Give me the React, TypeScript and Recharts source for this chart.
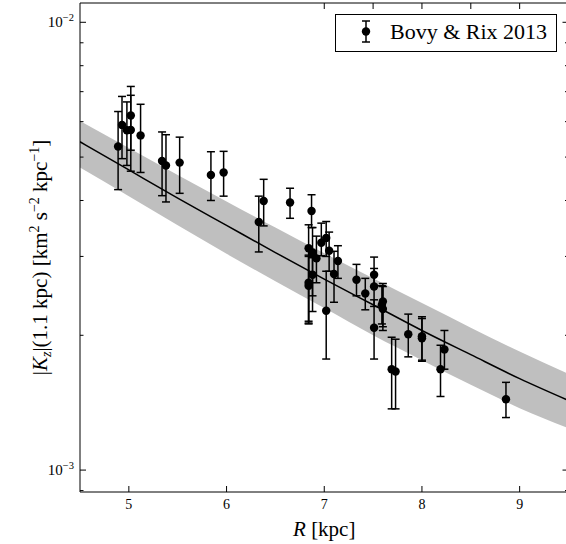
import React from "react";
import {Area, ComposedChart, ErrorBar, Legend, Line, Scatter, XAxis, YAxis, ZAxis} from "recharts";

const FONT = "'Liberation Serif', 'DejaVu Serif', serif";
const U = 1e-3; // K_z values below are in units of 1e-3

// Bovy & Rix 2013 measurements
const R_KPC = [4.89, 4.93, 4.98, 5.02, 5.02, 5.12, 5.34, 5.38, 5.52, 5.84, 5.97, 6.33, 6.38, 6.65, 6.87, 6.84, 6.88, 6.92, 6.97, 7.02, 7.05, 7.10, 7.14, 6.88, 6.84, 6.84, 7.02, 7.33, 7.42, 7.51, 7.51, 7.51, 7.60, 7.60, 7.59, 7.69, 7.73, 7.86, 8.00, 8.00, 8.19, 8.23, 8.86];
const KZ = [5.28, 5.90, 5.74, 6.19, 5.75, 5.59, 4.90, 4.79, 4.86, 4.56, 4.62, 3.58, 3.99, 3.96, 3.79, 3.13, 3.06, 2.97, 3.22, 3.30, 3.09, 2.74, 2.93, 2.73, 2.62, 2.58, 2.27, 2.66, 2.48, 2.73, 2.57, 2.08, 2.38, 2.29, 2.34, 1.68, 1.66, 2.01, 1.99, 1.97, 1.68, 1.86, 1.44];
const KZ_LOW = [4.23, 4.96, 4.79, 5.18, 4.65, 4.62, 4.10, 3.97, 4.15, 4.00, 4.09, 3.07, 3.51, 3.65, 3.48, 2.12, 2.26, 2.62, 3.01, 3.00, 2.78, 2.37, 2.68, 2.45, 2.15, 2.13, 1.77, 2.45, 2.28, 2.57, 2.32, 1.77, 2.09, 2.05, 2.12, 1.37, 1.37, 1.79, 1.76, 1.75, 1.46, 1.68, 1.31];
const KZ_HIGH = [6.32, 6.83, 6.64, 7.19, 6.87, 6.56, 5.69, 5.61, 5.54, 5.14, 5.15, 4.09, 4.46, 4.26, 4.12, 3.53, 3.48, 3.33, 3.56, 3.59, 3.40, 3.08, 3.17, 2.98, 3.00, 3.02, 2.78, 2.88, 2.68, 2.99, 2.82, 2.40, 2.61, 2.57, 2.58, 1.98, 1.96, 2.23, 2.20, 2.18, 1.90, 2.05, 1.57];

// model curve and its band
const MODEL_R = [4.5, 5, 5.5, 6, 6.5, 7, 7.5, 8, 8.5, 9, 9.5];
const MODEL_KZ = [5.41, 4.68, 4.05, 3.52, 3.06, 2.67, 2.34, 2.05, 1.81, 1.60, 1.43];
const BAND_LOW = [4.74, 4.09, 3.52, 3.04, 2.64, 2.30, 2.00, 1.76, 1.55, 1.375, 1.24];
const BAND_HIGH = [6.02, 5.24, 4.56, 3.98, 3.48, 3.05, 2.68, 2.36, 2.08, 1.84, 1.64];

const X_TICKS = [5, 6, 7, 8, 9];
const Y_MAJOR = [0.001, 0.01];
const Y_MAJOR_EXP = ["\u22123", "\u22122"];
const Y_MINOR = [0.0009, 0.002, 0.003, 0.004, 0.005, 0.006, 0.007, 0.008, 0.009];
const Y_TICKS = [...Y_MINOR, ...Y_MAJOR].sort((a, b) => a - b);
const SERIES_NAME = "Bovy & Rix 2013";

const points = R_KPC.map((r, i) => ({
    R: r,
    K: KZ[i] * U,
    err: [(KZ[i] - KZ_LOW[i]) * U, (KZ_HIGH[i] - KZ[i]) * U],
}));
const model = MODEL_R.map((r, i) => ({
    R: r,
    mid: MODEL_KZ[i] * U,
    band: [BAND_LOW[i] * U, BAND_HIGH[i] * U],
}));

const serif = {fontFamily: FONT};

const BottomTick = ({x, y, payload}: any) => (
    <g>
        <line x1={x} x2={x} y1={y} y2={y - 6} stroke="#000"/>
        <text x={x} y={y + 17} textAnchor="middle" style={serif} fontSize={14} fill="#000">{payload.value}</text>
    </g>
);
const TopTick = ({x, y}: any) => <line x1={x} x2={x} y1={y} y2={y + 6} stroke="#000"/>;

const LeftTick = ({x, y, payload}: any) => {
    const i = Y_MAJOR.indexOf(payload.value);
    return <g>
        <line x1={x} x2={x + (i >= 0 ? 6 : 3.5)} y1={y} y2={y} stroke="#000"/>
        {i >= 0 && <text x={x - 6} y={y + 5} textAnchor="end" style={serif} fontSize={15} fill="#000">
            10<tspan dy={-6} fontSize={10.5}>{Y_MAJOR_EXP[i]}</tspan>
        </text>}
    </g>
};
const RightTick = ({x, y, payload}: any) => {
    const major = Y_MAJOR.includes(payload.value);
    return <line x1={x} x2={x - (major ? 6 : 3.5)} y1={y} y2={y} stroke="#000"/>
};

const YLabel = ({viewBox}: any) => {
    const cx = viewBox.x + 40;
    const cy = viewBox.y + viewBox.height / 2 + 10;
    return <text transform={`translate(${cx},${cy}) rotate(-90)`} textAnchor="middle" style={serif} fontSize={21} fill="#000" dy={7}>
        |<tspan fontStyle="italic">K</tspan><tspan fontStyle="italic" fontSize={14} dy={4}>z</tspan>
        <tspan dy={-4}>|(1.1 kpc) [km</tspan><tspan fontSize={14} dy={-8}>2</tspan>
        <tspan dy={8}> s</tspan><tspan fontSize={14} dy={-8}>{"\u22122"}</tspan>
        <tspan dy={8}> kpc</tspan><tspan fontSize={14} dy={-8}>{"\u22121"}</tspan>
        <tspan dy={8}>]</tspan>
    </text>
};

const XLabel = ({viewBox}: any) => (
    <text x={viewBox.x + viewBox.width / 2} y={viewBox.y + 44} textAnchor="middle" style={serif} fontSize={21} fill="#000">
        <tspan fontStyle="italic">R</tspan> [kpc]
    </text>
);

const LegendBox = ({payload}: any) => {
    const name = payload?.[0]?.value ?? SERIES_NAME;
    return <svg width={222} height={38} style={{display: "block"}}>
        <rect x={0.5} y={0.5} width={221} height={37} fill="#fff" stroke="#000"/>
        <line x1={31} x2={31} y1={7} y2={28} stroke="#000" strokeWidth={1.5}/>
        <line x1={27} x2={35} y1={7} y2={7} stroke="#000" strokeWidth={1.5}/>
        <line x1={27} x2={35} y1={28} y2={28} stroke="#000" strokeWidth={1.5}/>
        <circle cx={31} cy={17.5} r={4.2} fill="#000"/>
        <text x={55} y={25} style={serif} fontSize={22} fill="#000">{name}</text>
    </svg>
};

export default function App() {
    return <div style={{position: "absolute", left: 0, top: 0, width: 566, height: 544, overflow: "hidden", background: "#fff"}}>
        <ComposedChart width={569} height={544} data={model} margin={{top: 3, right: 0.5, bottom: 0, left: 0}}>
            <XAxis type="number" dataKey="R" domain={[4.5, 9.5]} ticks={X_TICKS} interval={0} allowDataOverflow
                   height={52} tickSize={0} tickMargin={0} tickLine={false} tick={BottomTick}
                   axisLine={{stroke: "#000"}} label={XLabel}/>
            <XAxis xAxisId="top" orientation="top" mirror type="number" domain={[4.5, 9.5]} ticks={X_TICKS}
                   interval={0} allowDataOverflow tickSize={0} tickMargin={0} tickLine={false} tick={TopTick}
                   axisLine={{stroke: "#000"}}/>
            <YAxis dataKey="K" type="number" scale="log" domain={[0.0008934, 0.011043]} allowDataOverflow
                   ticks={Y_TICKS} interval={0} width={80} tickSize={0} tickMargin={0} tickLine={false}
                   tick={LeftTick} axisLine={{stroke: "#000"}} label={YLabel}/>
            <YAxis yAxisId="right" orientation="right" mirror type="number" scale="log"
                   domain={[0.0008934, 0.011043]} allowDataOverflow ticks={Y_TICKS} interval={0}
                   tickSize={0} tickMargin={0} tickLine={false} tick={RightTick} axisLine={{stroke: "#000"}}/>
            <ZAxis range={[56, 56]}/>
            <Area dataKey="band" type="monotone" fill="#bfbfbf" fillOpacity={1} stroke="none"
                  isAnimationActive={false} legendType="none"/>
            <Line dataKey="mid" type="monotone" stroke="#000" strokeWidth={1.5} dot={false} activeDot={false}
                  isAnimationActive={false} legendType="none"/>
            <Scatter data={points} name={SERIES_NAME} fill="#000" shape="circle" isAnimationActive={false}>
                <ErrorBar dataKey="err" direction="y" width={4} stroke="#000" strokeWidth={1.5}/>
            </Scatter>
            <Legend layout="horizontal" verticalAlign="middle" align="center" content={LegendBox}
                    wrapperStyle={{position: "absolute", left: 335, top: 14, width: 222, height: 38}}/>
        </ComposedChart>
    </div>
}
